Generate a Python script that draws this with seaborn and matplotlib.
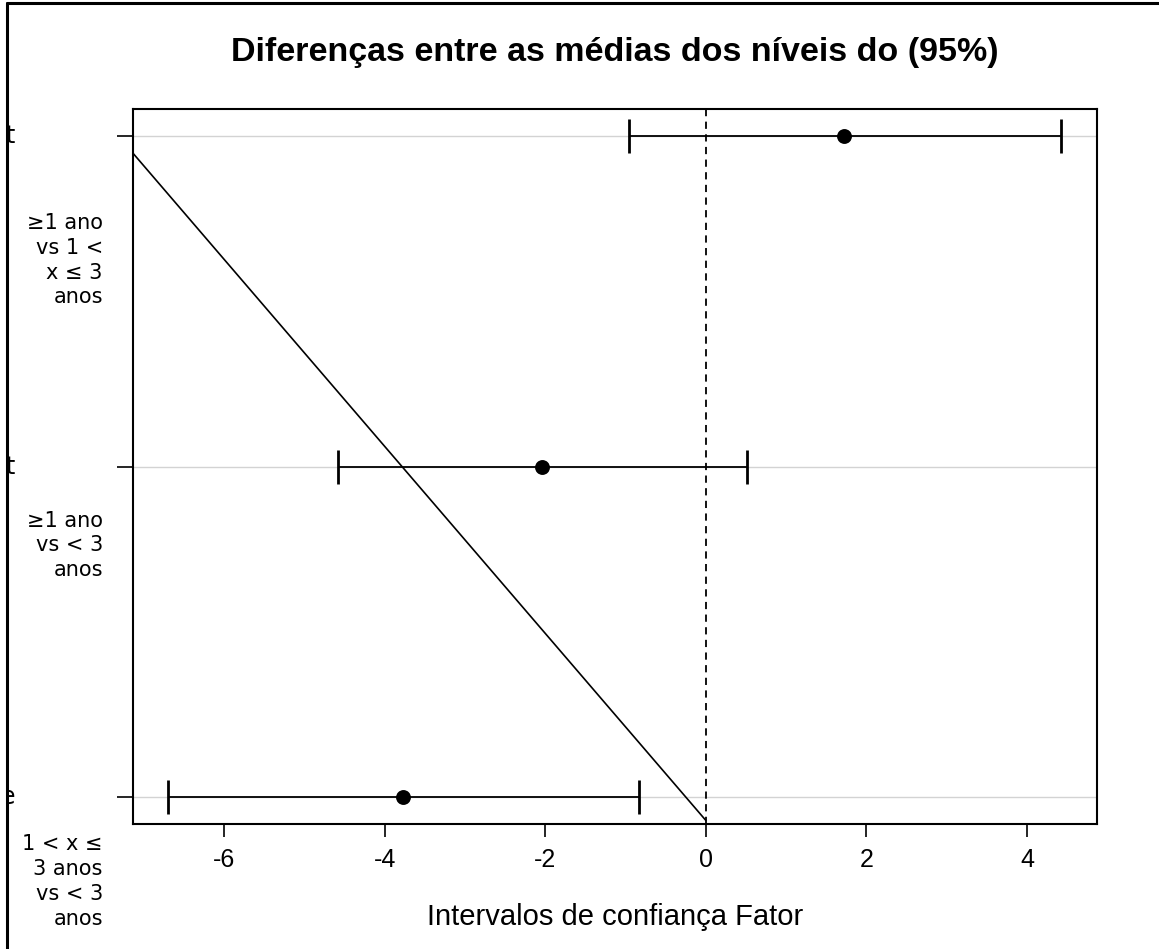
import numpy as np
import pandas as pd
import seaborn as sns
import matplotlib
matplotlib.use("Agg")
import matplotlib.pyplot as plt
from matplotlib.lines import Line2D
from matplotlib.transforms import ScaledTranslation, Bbox, blended_transform_factory

# ---- data ----
comparisons = ["≥1 ano\nvs 1 <\nx ≤ 3\nanos",
               "≥1 ano\nvs < 3\nanos",
               "1 < x ≤\n3 anos\nvs < 3\nanos"]
label_tails = ["t", "t", "e"]
positions = [3, 2, 1]
diff_means = [1.72, -2.04, -3.77]
ci_lower = [-0.96, -4.58, -6.70]
ci_upper = [4.42, 0.51, -0.83]
diag_x = [-7.14, 0.0]
diag_y = [2.95, 0.93]
xticks = [-6, -4, -2, 0, 2, 4]

df = pd.DataFrame({"comparison": comparisons, "pos": positions,
                   "diff": diff_means, "lwr": ci_lower, "upr": ci_upper})

sns.set_theme(style="white")
plt.rcParams["font.family"] = ["Liberation Sans", "DejaVu Sans"]
plt.rcParams["text.color"] = "black"
plt.rcParams["axes.labelcolor"] = "black"
plt.rcParams["xtick.color"] = "black"
plt.rcParams["ytick.color"] = "black"

W, H = 1159, 949
fig = plt.figure(figsize=(W / 100, H / 100), dpi=100)
ax = fig.add_axes([132.7 / W, 1 - 824 / H, (1097 - 132.7) / W, (824 - 109.3) / H])

# grid lines at each comparison
for p in df["pos"]:
    ax.axhline(p, color="#d3d3d3", lw=1.0, zorder=0)

# reference dashed line at zero
ax.axvline(0, color="black", lw=1.3, ls=(0, (4, 3)), zorder=2)

# diagonal line
ax.plot(diag_x, diag_y, color="black", lw=1.2, zorder=2)

# confidence intervals
ax.errorbar(df["diff"], df["pos"],
            xerr=[df["diff"] - df["lwr"], df["upr"] - df["diff"]],
            fmt="none", ecolor="black", elinewidth=1.3, capsize=12.5,
            capthick=2.0, zorder=3)
sns.scatterplot(data=df, x="diff", y="pos", color="black", s=115,
                marker="o", edgecolor="black", linewidth=0, ax=ax, zorder=4)

ax.set_xlim(-7.137, 4.872)
ax.set_ylim(0.919, 3.081)
ax.set_xticks(xticks)
ax.set_xticklabels([str(v) for v in xticks], fontsize=18, color="black")
ax.set_yticks(positions)
ax.set_yticklabels(comparisons, fontsize=15, family=["DejaVu Sans"],
                   linespacing=1.3, color="black")
ax.tick_params(axis="x", direction="out", length=9.5, width=1.2,
               color="black", pad=8, bottom=True)
ax.tick_params(axis="y", direction="out", length=11.5, width=1.2,
               color="black", pad=10, left=True)

offsets_px = [77, 44, 37]
for lab, off in zip(ax.get_yticklabels(), offsets_px):
    lab.set_va("top")
    lab.set_transform(lab.get_transform() +
                      ScaledTranslation(0, -off / 100, fig.dpi_scale_trans))

for sp in ax.spines.values():
    sp.set_visible(True)
    sp.set_color("black")
    sp.set_linewidth(1.5)

ax.set_xlabel("Intervalos de confiança Fator", fontsize=21, labelpad=22,
              color="black")
ax.set_ylabel("")
ax.set_title("Diferenças entre as médias dos níveis do (95%)",
             fontsize=24.5, fontweight="bold", pad=35, color="black")

# clipped tails of long labels at the left figure edge
clip = Bbox.from_extents(7, 0, W, H)
for tail, p in zip(label_tails, positions):
    t = ax.text(0, p, tail, fontsize=17, family=["DejaVu Sans"], color="black",
                ha="right", va="center",
                transform=blended_transform_factory(fig.transFigure, ax.transData) +
                ScaledTranslation(15 / 100, 0, fig.dpi_scale_trans))
    t.set_clip_box(clip)
    t.set_clip_on(True)

# figure frame (left and top)
fig.add_artist(Line2D([7 / W, 7 / W], [0, 1 - 3 / H], color="black", lw=2.2,
                      transform=fig.transFigure))
fig.add_artist(Line2D([7 / W, 1], [1 - 3 / H, 1 - 3 / H], color="black",
                      lw=2.2, transform=fig.transFigure))

fig.savefig("out.png", dpi=100)
